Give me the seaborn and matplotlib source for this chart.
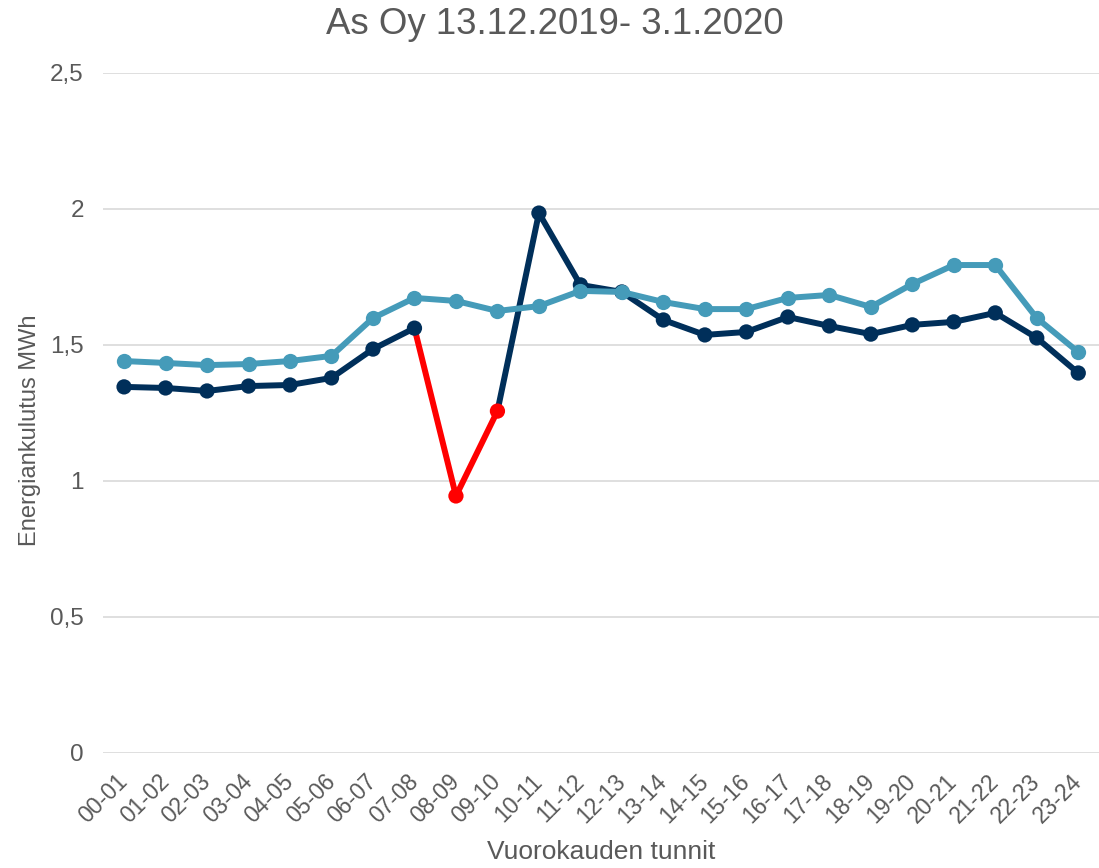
import pandas as pd
import matplotlib.pyplot as plt
import seaborn as sns

# ── Data ─────────────────────────────────────────────────────
hours = ['00-01', '01-02', '02-03', '03-04', '04-05', '05-06', '06-07', '07-08',
         '08-09', '09-10', '10-11', '11-12', '12-13', '13-14', '14-15', '15-16',
         '16-17', '17-18', '18-19', '19-20', '20-21', '21-22', '22-23', '23-24']

dark_values = [1.346, 1.342, 1.331, 1.349, 1.353, 1.379, 1.485, 1.562,
               0.945, 1.257, 1.985, 1.721, 1.695, 1.592, 1.537, 1.548,
               1.603, 1.570, 1.540, 1.574, 1.585, 1.618, 1.526, 1.397]

teal_values = [1.441, 1.434, 1.426, 1.430, 1.441, 1.460, 1.599, 1.673,
               1.662, 1.625, 1.643, 1.699, 1.695, 1.658, 1.632, 1.632,
               1.673, 1.684, 1.640, 1.724, 1.794, 1.794, 1.599, 1.474]

# points flagged as anomalous (drawn in red)
red_hours = ['08-09', '09-10']

y_ticks = [0, 0.5, 1, 1.5, 2, 2.5]
y_tick_labels = ['0', '0,5', '1', '1,5', '2', '2,5']

df = pd.DataFrame({'hour': hours, 'dark': dark_values, 'teal': teal_values})
df['pos'] = range(len(df))
df['red'] = df['hour'].isin(red_hours)

# ── Style ────────────────────────────────────────────────────
sns.set_style('white')
plt.rcParams['font.family'] = ['Liberation Sans', 'DejaVu Sans']
text_col = '#595959'
dark_col = '#002F5A'
teal_col = '#459BB9'
red_col = '#FF0000'
lw = 4.3
ms = 11

fig = plt.figure(figsize=(10.99, 8.68), dpi=100)
ax = fig.add_axes([0.094, 0.1325, 0.906, 0.7834])

# dark series: normal segments
first_red = df.index[df['red']].min()
last_red = df.index[df['red']].max()
seg1 = df.loc[:first_red - 1]
seg2 = df.loc[last_red:]
for seg in (seg1, seg2):
    sns.lineplot(data=seg, x='pos', y='dark', color=dark_col, lw=lw, ax=ax,
                 zorder=2)

# red segment from the last normal point through the flagged points
red_seg = df.loc[first_red - 1:last_red]
sns.lineplot(data=red_seg, x='pos', y='dark', color=red_col, lw=lw, ax=ax,
             zorder=3)

# markers
normal = df[~df['red']]
flagged = df[df['red']]
sns.scatterplot(data=normal, x='pos', y='dark', color=dark_col, s=ms ** 2,
                edgecolor='none', ax=ax, zorder=4)
sns.scatterplot(data=flagged, x='pos', y='dark', color=red_col, s=ms ** 2,
                edgecolor='none', ax=ax, zorder=4)

# teal series on top
sns.lineplot(data=df, x='pos', y='teal', color=teal_col, lw=lw, marker='o',
             markersize=ms, markeredgewidth=0, ax=ax, zorder=5)

# ── Axes ─────────────────────────────────────────────────────
ax.set_xlim(-0.5, len(hours) - 0.5)
ax.set_ylim(0, 2.5)
ax.set_xticks(df['pos'])
ax.set_xticklabels(hours, rotation=45, ha='right', va='center',
                   rotation_mode='anchor', fontsize=16.5, color=text_col)
ax.set_yticks(y_ticks)
ax.set_yticklabels(y_tick_labels, fontsize=17.5, color=text_col)
ax.tick_params(axis='both', length=0)
ax.tick_params(axis='y', pad=14)
ax.tick_params(axis='x', pad=18)
ax.yaxis.grid(True, color='#D9D9D9', lw=1.2)
ax.set_axisbelow(True)
for sp in ax.spines.values():
    sp.set_visible(False)

ax.set_xlabel('Vuorokauden tunnit', fontsize=19, color=text_col, va='center')
ax.set_ylabel('Energiankulutus MWh', fontsize=17, color=text_col, va='center')
ax.xaxis.set_label_coords(0.5, -0.1456)
ax.yaxis.set_label_coords(-0.0733, 0.475)
fig.text(0.505, 1 - 25 / 868, 'As Oy 13.12.2019- 3.1.2020', fontsize=26.4,
         color=text_col, ha='center', va='center')

fig.savefig('out.png', dpi=100)
